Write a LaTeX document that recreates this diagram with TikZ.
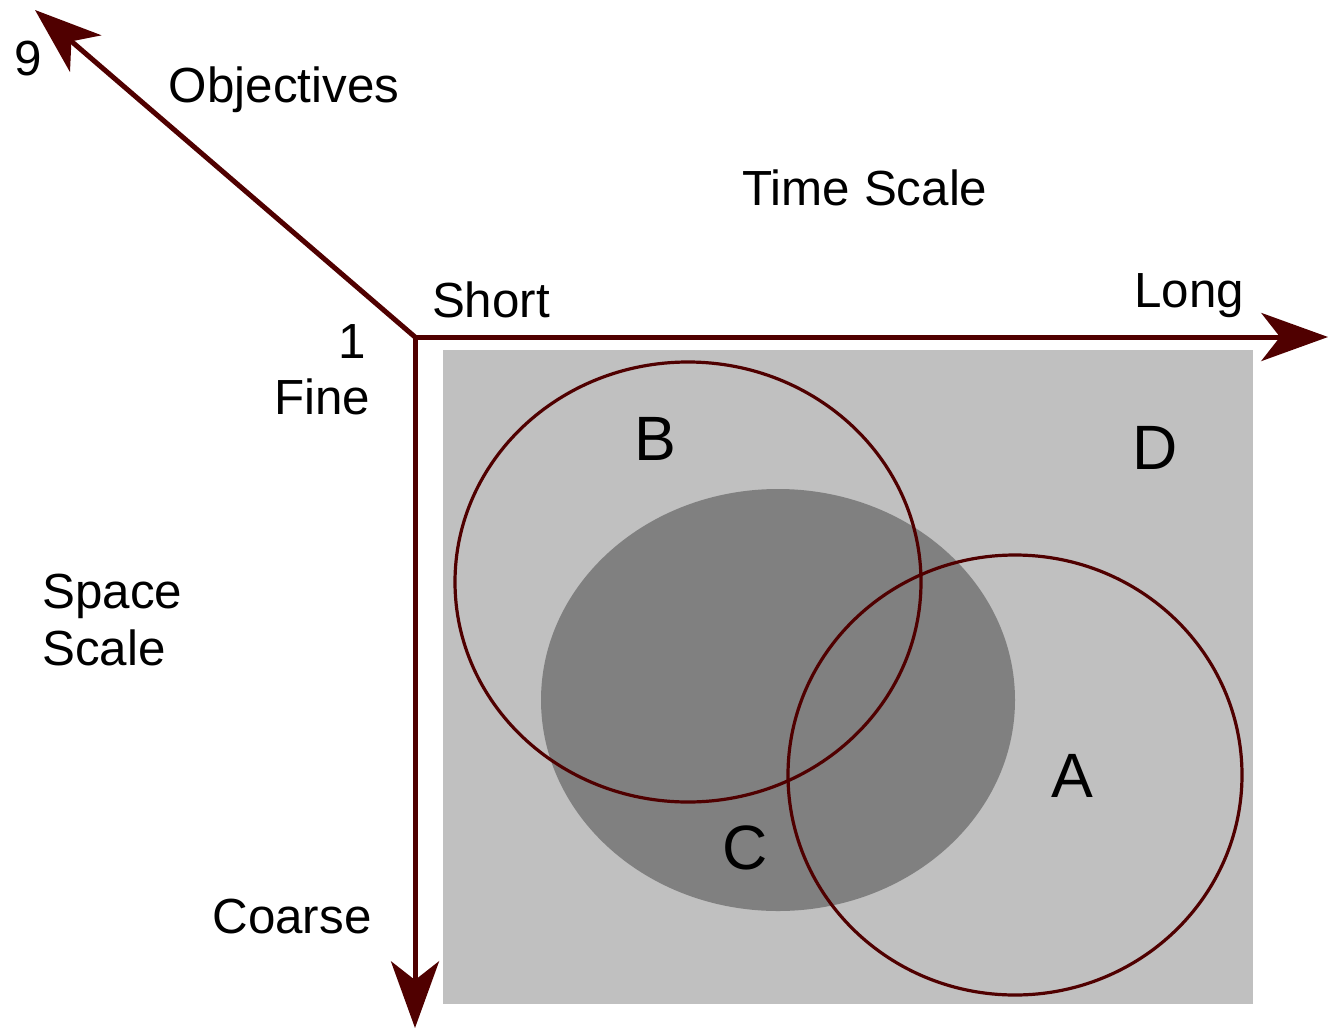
\documentclass[tikz,border=0pt]{standalone}
\usepackage{fontspec}
\setmainfont{Liberation Sans}
\usetikzlibrary{arrows.meta}
\definecolor{axisred}{RGB}{80,0,0}
\definecolor{lightgrey}{RGB}{192,192,192}
\definecolor{darkgrey}{RGB}{128,128,128}
\tikzset{
  axis/.style={draw=axisred, line width=3.75pt,
    -{Stealth[length=50pt, width=36pt, inset=14pt]}},
  ring/.style={draw=axisred, line width=2.4pt},
  lbl/.style={anchor=base, inner sep=0pt, font=\fontsize{37}{42}\selectfont},
  big/.style={anchor=base, inner sep=0pt, font=\fontsize{47}{52}\selectfont}
}
\begin{document}
\begin{tikzpicture}[x=0.75pt, y=-0.75pt]
\useasboundingbox (0,0) rectangle (1330,1031);
% regions
\fill[lightgrey] (443,350) rectangle (1253,1004);
\fill[darkgrey] (778,700) ellipse [x radius=237, y radius=211];
\draw[ring] (688,582) ellipse [x radius=233, y radius=220];
\draw[ring] (1015,775) ellipse [x radius=227, y radius=220];
% axes
\coordinate (origin) at (415,337);
\coordinate (timeEnd) at (1328,337);
\coordinate (spaceEnd) at (415,1028);
\coordinate (objEnd) at (35,10);
\draw[axis] (origin) -- (timeEnd);
\draw[axis] (origin) -- (spaceEnd);
\draw[axis] (origin) -- (objEnd);
% labels
\node[lbl] (nine) at (28,75) {9};
\node[lbl] (objectives) at (284,103) {Objectives};
\node[lbl] (timeScale) at (865,205) {Time Scale};
\node[lbl] (short) at (491,317) {Short};
\node[lbl] (long) at (1189,307) {Long};
\node[lbl] (one) at (352,358) {1};
\node[lbl] (fine) at (322,414) {Fine};
\node[lbl, anchor=base west] (space) at (42,608) {Space};
\node[lbl, anchor=base west] (scale) at (42,665) {Scale};
\node[lbl] (coarse) at (292,933) {Coarse};
\node[big] (regB) at (655,460) {B};
\node[big] (regD) at (1155,469) {D};
\node[big] (regA) at (1072,797) {A};
\node[big] (regC) at (745,869) {C};
\end{tikzpicture}
\end{document}
